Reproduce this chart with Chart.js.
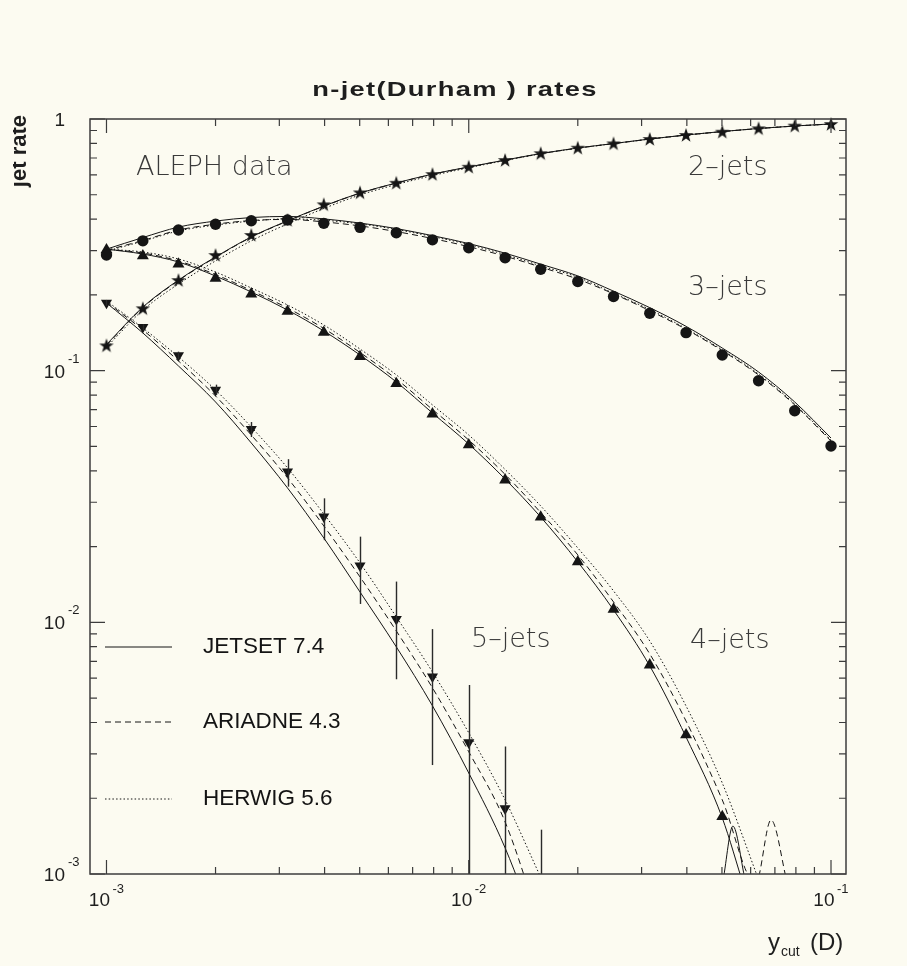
<!DOCTYPE html>
<html>
<head>
<meta charset="utf-8">
<title>n-jet(Durham) rates</title>
<script src="https://cdn.jsdelivr.net/npm/chart.js@4.4.1/dist/chart.umd.min.js"></script>
<style>
  html, body { margin: 0; padding: 0; background: #fcfbf1; }
  canvas { display: block; }
</style>
</head>
<body>
<canvas id="jets" width="907" height="966"></canvas>
<script>
// ycut bins of the measurement (log spaced)
const ycut = [0.001, 0.00126, 0.00158, 0.002, 0.00251, 0.00316, 0.00398, 0.00501, 0.00631, 0.00794,
              0.01, 0.0126, 0.0158, 0.02, 0.0251, 0.0316, 0.0398, 0.0501, 0.0631, 0.0794, 0.1];

// ALEPH data
const data2jet = [0.126, 0.177, 0.229, 0.288, 0.346, 0.397, 0.458, 0.511, 0.558, 0.604, 0.646,
                  0.687, 0.731, 0.769, 0.800, 0.833, 0.864, 0.890, 0.918, 0.941, 0.955];
const data3jet = [0.288, 0.328, 0.362, 0.382, 0.394, 0.397, 0.385, 0.371, 0.353, 0.331, 0.308,
                  0.281, 0.253, 0.226, 0.197, 0.169, 0.1416, 0.1154, 0.0912, 0.0693, 0.0502];
const data4jet = [0.302, 0.286, 0.265, 0.233, 0.2017, 0.172, 0.142, 0.1138, 0.0889, 0.0673, 0.0507,
                  0.0368, 0.0262, 0.0174, 0.01127, 0.00677, 0.00357, 0.00169];
const data5jet = [0.186, 0.149, 0.115, 0.0838, 0.0585, 0.0397, 0.0263, 0.0168, 0.0103, 0.00608,
                  0.00333, 0.00182, 0.0008];
const err5jetLow  = [0.181, 0.145, 0.111, 0.080, 0.0545, 0.0346, 0.0212, 0.01183, 0.00594, 0.00271,
                     0.0005, 0.0003, 0.0002];
const err5jetHigh = [0.191, 0.153, 0.119, 0.088, 0.0625, 0.0445, 0.0311, 0.0219, 0.01452, 0.0094,
                     0.00564, 0.00321, 0.0015];

// JETSET 7.4
const jetset2 = [0.127, 0.179, 0.229, 0.283, 0.340, 0.394, 0.451, 0.508, 0.557, 0.604, 0.645,
                 0.687, 0.729, 0.767, 0.799, 0.833, 0.864, 0.892, 0.917, 0.938, 0.956];
const jetset3 = [0.304, 0.338, 0.372, 0.393, 0.406, 0.410, 0.401, 0.386, 0.367, 0.344, 0.320,
                 0.293, 0.265, 0.238, 0.207, 0.178, 0.150, 0.123, 0.0988, 0.0751, 0.054];
const jetset4 = [0.304, 0.2907, 0.2703, 0.2377, 0.2054, 0.1742, 0.1438, 0.1154, 0.0902, 0.0679, 0.0511,
                 0.0371, 0.0262, 0.01738, 0.0112, 0.00671, 0.0035, 0.00167];
const jetset4Tail = [[0.0575, 0.00089]];
const jetset4Bump = [[0.0504, 0.00095], [0.0536, 0.00155], [0.0579, 0.00095]];
const jetset5 = [0.1858, 0.1412, 0.1044, 0.0751, 0.0516, 0.0342, 0.02164, 0.0132, 0.00799, 0.00466,
                 0.00252, 0.00127, 0.00054];

// ARIADNE 4.3
const ariadne2 = [0.126, 0.178, 0.228, 0.282, 0.339, 0.393, 0.450, 0.507, 0.556, 0.603, 0.644,
                  0.686, 0.728, 0.766, 0.798, 0.832, 0.863, 0.891, 0.916, 0.937, 0.955];
const ariadne3 = [0.301, 0.329, 0.362, 0.382, 0.395, 0.399, 0.390, 0.376, 0.357, 0.335, 0.311,
                  0.285, 0.258, 0.231, 0.202, 0.173, 0.146, 0.120, 0.0961, 0.0731, 0.0525];
const ariadne4 = [0.304, 0.2934, 0.2728, 0.2410, 0.2082, 0.1774, 0.1471, 0.1181, 0.0927, 0.0701, 0.0530,
                  0.0387, 0.0273, 0.01853, 0.01205, 0.00749, 0.00405, 0.00197];
const ariadne4Tail = [[0.062, 0.00092], [0.0683, 0.00164], [0.0756, 0.00093]];
const ariadne5 = [0.1874, 0.1451, 0.1093, 0.0793, 0.0555, 0.0375, 0.02415, 0.01515, 0.00924, 0.00549,
                  0.00306, 0.00161, 0.00062];

// HERWIG 5.6
const herwig2 = [0.124, 0.174, 0.221, 0.273, 0.328, 0.383, 0.441, 0.499, 0.549, 0.596, 0.640,
                 0.684, 0.727, 0.766, 0.798, 0.832, 0.863, 0.891, 0.917, 0.938, 0.955];
const herwig3 = [0.2985, 0.327, 0.359, 0.379, 0.393, 0.401, 0.396, 0.383, 0.364, 0.341, 0.317,
                 0.289, 0.261, 0.235, 0.203, 0.175, 0.147, 0.121, 0.097, 0.0737, 0.053];
const herwig4 = [0.304, 0.2961, 0.2778, 0.2466, 0.2131, 0.1824, 0.1519, 0.1219, 0.0962, 0.0731, 0.0555,
                 0.0405, 0.0290, 0.01975, 0.01333, 0.00843, 0.00465, 0.00230];
const herwig4Tail = [[0.0631, 0.00095]];
const herwig5 = [0.1892, 0.1478, 0.1134, 0.0838, 0.0597, 0.0411, 0.02696, 0.01722, 0.01051, 0.00635,
                 0.00364, 0.00197, 0.00097];

// axis labels
const xDecades = [0.001, 0.01, 0.1];
const xDecadeExp = ['-3', '-2', '-1'];
const yDecades = [0.001, 0.01, 0.1, 1];
const yDecadeExp = ['-3', '-2', '-1', ''];
const modelNames = ['JETSET 7.4', 'ARIADNE 4.3', 'HERWIG 5.6'];
const jetLabels = ['2\u2013jets', '3\u2013jets', '4\u2013jets', '5\u2013jets'];

const ink = '#151515';
const dashStyles = [[], [6, 4], [1.5, 2.2]];

function pairs(xs, ys) {
  return ys.map(function(y, i) { return {x: xs[i], y: y}; });
}
function tailPairs(list) {
  return (list || []).map(function(p) { return {x: p[0], y: p[1]}; });
}

function modelLine(values, tail, model) {
  return {
    data: pairs(ycut, values).concat(tailPairs(tail)),
    showLine: true,
    borderColor: ink,
    borderWidth: 1,
    borderDash: dashStyles[model],
    pointRadius: 0,
    cubicInterpolationMode: 'monotone'
  };
}

function starImage() {
  let c = document.createElement('canvas');
  c.width = 16; c.height = 16;
  let g = c.getContext('2d');
  g.fillStyle = ink;
  g.beginPath();
  for (let i = 0; i < 10; i++) {
    let r = i % 2 ? 3.0 : 7.6;
    let a = -Math.PI / 2 + i * Math.PI / 5;
    g.lineTo(8 + r * Math.cos(a), 8.6 + r * Math.sin(a));
  }
  g.closePath();
  g.fill();
  return c;
}

function markers(values, style, radius, rotation, clip) {
  return {
    data: pairs(ycut, values),
    showLine: false,
    pointStyle: style,
    pointRadius: radius,
    pointRotation: rotation || 0,
    pointBackgroundColor: ink,
    pointBorderColor: ink,
    pointBorderWidth: 0,
    clip: clip
  };
}

const datasets = [
  modelLine(jetset2, null, 0), modelLine(ariadne2, null, 1), modelLine(herwig2, null, 2),
  modelLine(jetset3, null, 0), modelLine(ariadne3, null, 1), modelLine(herwig3, null, 2),
  modelLine(jetset4, jetset4Tail, 0), modelLine(ariadne4, ariadne4Tail, 1), modelLine(herwig4, herwig4Tail, 2),
  modelLine(jetset5, null, 0), modelLine(ariadne5, null, 1), modelLine(herwig5, null, 2),
  { data: tailPairs(jetset4Bump), showLine: true, borderColor: ink, borderWidth: 1, pointRadius: 0,
    cubicInterpolationMode: 'monotone' },
  markers(data2jet, starImage(), 7, 0, false),
  markers(data3jet, 'circle', 5.7, 0, false),
  markers(data4jet, 'triangle', 6.9, 0, 0),
  markers(data5jet, 'triangle', 6.4, 180, 0)
];

const decor = {
  id: 'decor',
  beforeDraw(chart) {
    let ctx = chart.ctx;
    ctx.save();
    ctx.fillStyle = '#fcfbf1';
    ctx.fillRect(0, 0, chart.width, chart.height);
    ctx.restore();
  },
  afterDatasetsDraw(chart) {
    let ctx = chart.ctx, a = chart.chartArea;
    let xs = chart.scales.x, ys = chart.scales.y;
    ctx.save();
    ctx.beginPath();
    ctx.rect(a.left, a.top, a.right - a.left, a.bottom - a.top);
    ctx.clip();
    ctx.strokeStyle = '#2a2a2a';
    ctx.lineWidth = 1.4;
    for (let i = 0; i < data5jet.length; i++) {
      let px = Math.round(xs.getPixelForValue(ycut[i])) + 0.5;
      ctx.beginPath();
      ctx.moveTo(px, ys.getPixelForValue(err5jetHigh[i]));
      ctx.lineTo(px, ys.getPixelForValue(err5jetLow[i]));
      ctx.stroke();
    }
    ctx.restore();
  },
  afterDraw(chart) {
    let ctx = chart.ctx, a = chart.chartArea;
    let xs = chart.scales.x, ys = chart.scales.y;
    ctx.save();

    // frame
    ctx.strokeStyle = '#3c3c3c';
    ctx.lineWidth = 1.5;
    ctx.strokeRect(a.left, a.top, a.right - a.left, a.bottom - a.top);

    // inward ticks
    ctx.lineWidth = 1.2;
    ctx.beginPath();
    xDecades.forEach(function(d) {
      for (let m = 1; m <= 9; m++) {
        let px = xs.getPixelForValue(d * m);
        if (px <= a.left + 1 || px >= a.right - 1) continue;
        let len = m === 1 ? 14 : 7;
        ctx.moveTo(px, a.bottom); ctx.lineTo(px, a.bottom - len);
        ctx.moveTo(px, a.top); ctx.lineTo(px, a.top + len);
      }
    });
    yDecades.forEach(function(d) {
      for (let m = 1; m <= 9; m++) {
        let py = ys.getPixelForValue(d * m);
        if (py < a.top - 0.5 || py > a.bottom + 0.5) continue;
        let len = m === 1 ? 15 : 7;
        ctx.moveTo(a.left, py); ctx.lineTo(a.left + len, py);
        ctx.moveTo(a.right, py); ctx.lineTo(a.right - len, py);
      }
    });
    ctx.stroke();

    // tick labels
    ctx.fillStyle = '#1e1e1e';
    ctx.textBaseline = 'alphabetic';
    xDecades.forEach(function(d, i) {
      let px = xs.getPixelForValue(d);
      ctx.font = '19px "Liberation Sans", Arial, sans-serif';
      ctx.textAlign = 'right';
      ctx.fillText('10', px + 3.5, a.bottom + 32);
      ctx.font = '13px "Liberation Sans", Arial, sans-serif';
      ctx.textAlign = 'left';
      ctx.fillText(xDecadeExp[i], px + 6, a.bottom + 19);
    });
    yDecades.forEach(function(d, i) {
      let py = ys.getPixelForValue(d);
      ctx.font = '19px "Liberation Sans", Arial, sans-serif';
      ctx.textAlign = 'right';
      if (yDecadeExp[i] === '') {
        ctx.fillText('1', 65, py + 7);
        return;
      }
      ctx.fillText('10', 65, py + 7);
      ctx.font = '13px "Liberation Sans", Arial, sans-serif';
      ctx.textAlign = 'left';
      ctx.fillText(yDecadeExp[i], 68, py - 8);
    });

    // axis titles
    ctx.textAlign = 'left';
    ctx.font = '24px "Liberation Sans", Arial, sans-serif';
    ctx.fillText('y', 768, 950);
    ctx.font = '14px "Liberation Sans", Arial, sans-serif';
    ctx.fillText('cut', 781, 956);
    ctx.font = '24px "Liberation Sans", Arial, sans-serif';
    ctx.fillText('(D)', 810, 950);

    // y title, cut by the left edge as in the original
    ctx.save();
    ctx.beginPath();
    ctx.rect(13, 0, 60, chart.height);
    ctx.clip();
    ctx.translate(26, 115);
    ctx.rotate(-Math.PI / 2);
    ctx.textAlign = 'right';
    ctx.font = 'bold 22px "Liberation Sans", Arial, sans-serif';
    ctx.fillText('jet rate', 0, 0);
    ctx.restore();

    // title
    ctx.save();
    ctx.translate(455, 96);
    ctx.scale(1.3, 1);
    ctx.textAlign = 'center';
    ctx.font = 'bold 21px "Liberation Sans", Arial, sans-serif';
    ctx.letterSpacing = '1px';
    ctx.fillText('n-jet(Durham ) rates', 0, 0);
    ctx.restore();

    // annotations
    ctx.fillStyle = '#3a3a3a';
    ctx.font = '200 27px "DejaVu Sans", sans-serif';
    ctx.textAlign = 'left';
    ctx.fillText('ALEPH data', 136, 175);
    ctx.fillText(jetLabels[0], 688, 175);
    ctx.fillText(jetLabels[1], 688, 295);
    ctx.fillText(jetLabels[2], 690, 648);
    ctx.fillText(jetLabels[3], 471, 647);

    // legend
    ctx.strokeStyle = ink;
    ctx.lineWidth = 1;
    ctx.fillStyle = '#141414';
    ctx.font = '22.5px "Liberation Sans", Arial, sans-serif';
    ctx.textBaseline = 'middle';
    [647, 722, 799].forEach(function(y, i) {
      ctx.setLineDash(dashStyles[i]);
      ctx.beginPath();
      ctx.moveTo(105, y);
      ctx.lineTo(172, y);
      ctx.stroke();
      ctx.fillText(modelNames[i], 203, y);
    });
    ctx.setLineDash([]);
    ctx.restore();
  }
};

new Chart(document.getElementById('jets'), {
  type: 'scatter',
  data: { datasets: datasets },
  options: {
    responsive: false,
    devicePixelRatio: 1,
    animation: false,
    events: [],
    layout: { padding: { left: 90, top: 119, right: 61, bottom: 92 } },
    plugins: { legend: { display: false }, title: { display: false }, tooltip: { enabled: false } },
    scales: {
      x: { type: 'logarithmic', min: 0.0009005, max: 0.11, display: false },
      y: { type: 'logarithmic', min: 0.001, max: 1, display: false }
    }
  },
  plugins: [decor]
});
</script>
</body>
</html>
